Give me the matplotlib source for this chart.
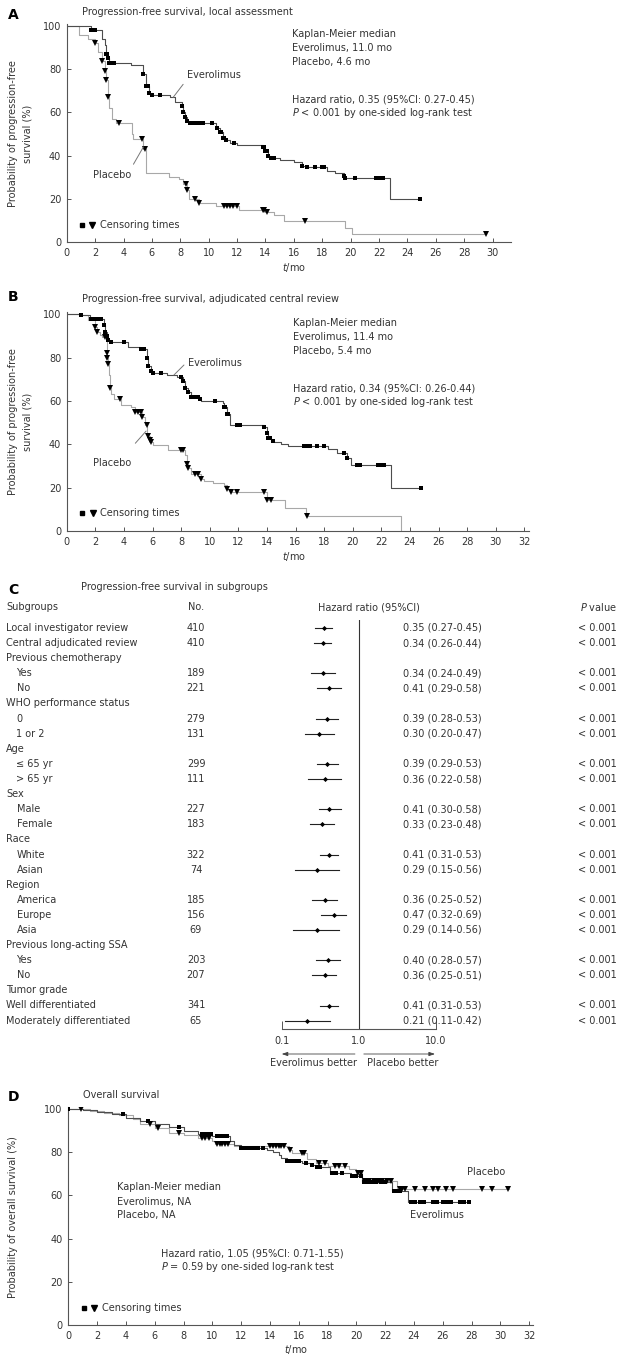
import numpy as np
import matplotlib
matplotlib.use("Agg")
import matplotlib.pyplot as plt
import matplotlib.transforms as mtransforms
from matplotlib.legend_handler import HandlerTuple

plt.rcParams["font.family"] = ["DejaVu Sans"]
plt.rcParams["mathtext.fontset"] = "dejavusans"

W, H = 629, 1364
FS = 7
TXT = "#333333"
EV_COLOR = "#4d4d4d"
PL_COLOR = "#a8a8a8"

# ---------------- Panel A: PFS, local assessment ----------------
a_ev_t = [0, 1.7, 2.5, 2.7, 2.8, 2.9, 3.0, 4.5, 5.4, 5.6, 5.8, 6.0, 7.3, 7.6, 8.1, 8.2, 8.3,
          8.5, 8.6, 10.5, 10.8, 11.0, 11.2, 11.5, 12.0, 13.8, 14.0, 14.2, 14.4, 15.0, 16.0,
          16.6, 16.8, 18.3, 18.9, 19.5, 19.6, 22.8]
a_ev_s = [100, 98, 94, 91, 87, 85, 83, 82, 78, 72, 69, 68, 67, 65, 63, 60, 58,
          56, 55, 53, 51, 48, 47, 46, 45, 44, 42, 40, 39, 38, 37,
          35, 34.5, 33, 32, 30.5, 29.5, 20]
a_ev_end = 24.9
a_ev_cens = [1.7, 1.9, 2.0, 2.8, 2.85, 2.9, 3.0, 3.1, 3.3, 5.4, 5.6, 5.7, 5.8, 6.0, 6.6,
             8.1, 8.2, 8.3, 8.5, 8.7, 8.8, 8.9, 9.0, 9.1, 9.2, 9.3, 9.5, 9.6, 10.2, 10.6,
             10.8, 10.9, 11.0, 11.1, 11.2, 11.8, 13.8, 13.9, 14.0, 14.1, 14.2, 14.4, 14.6,
             16.6, 16.9, 17.5, 18.0, 18.1, 19.5, 19.6, 20.3, 21.8, 22.0, 22.3, 24.9]

a_pl_t = [0, 0.9, 1.5, 2.0, 2.2, 2.5, 2.7, 2.8, 2.9, 3.0, 3.2, 3.5, 4.6, 4.7, 5.4, 5.6,
          7.2, 7.9, 8.2, 8.5, 8.6, 9.3, 10.5, 12.1, 14.0, 14.6, 15.3, 19.6, 20.1]
a_pl_s = [100, 96, 94, 92, 88, 84, 79, 75, 67, 62, 57, 55, 50, 47.5, 43, 32,
          30, 29, 27, 24, 20, 18, 16.5, 15, 14, 12.5, 9.5, 6.5, 3.6]
a_pl_end = 29.5
a_pl_cens = [2.0, 2.5, 2.7, 2.8, 2.9, 3.7, 5.3, 5.5, 8.4, 8.5, 9.0, 9.3, 11.1, 11.3, 11.5,
             11.7, 12.0, 13.8, 13.9, 14.1, 16.8, 29.5]

# ---------------- Panel B: PFS, central review ----------------
b_ev_t = [0, 1.0, 1.6, 2.6, 2.7, 2.8, 2.9, 3.0, 4.3, 5.1, 5.6, 5.7, 5.9, 6.0, 7.0, 7.7,
          8.1, 8.3, 8.5, 8.7, 9.3, 9.4, 10.9, 11.0, 11.2, 11.4, 13.8, 14.0, 14.1, 14.3,
          14.5, 15.0, 15.5, 18.3, 18.9, 19.6, 19.9, 22.7]
b_ev_s = [100, 99.5, 98, 95, 92, 90, 88, 87, 85, 84, 80, 76, 74, 73, 72, 71,
          69, 66, 64, 62, 61, 60, 59, 57, 54, 49, 48, 45, 43, 41.5,
          41, 40, 39, 38, 36, 33.5, 30.5, 19.7]
b_ev_end = 24.8
b_ev_cens = [1.0, 1.7, 1.9, 2.0, 2.2, 2.4, 2.6, 2.7, 2.8, 2.9, 3.1, 4.0, 5.2, 5.4, 5.6,
             5.7, 5.9, 6.0, 6.6, 8.0, 8.1, 8.3, 8.5, 8.7, 8.8, 8.9, 9.0, 9.1, 9.2, 9.3,
             10.4, 11.0, 11.1, 11.2, 11.3, 11.9, 12.1, 13.8, 14.0, 14.1, 14.2, 14.4,
             16.6, 16.8, 17.0, 17.5, 18.0, 19.4, 19.6, 20.3, 20.5, 21.8, 22.0, 22.2, 24.8]

b_pl_t = [0, 1.0, 1.5, 2.0, 2.1, 2.3, 2.5, 2.8, 2.85, 2.9, 2.95, 3.0, 3.05, 3.1, 3.3,
          3.8, 4.5, 4.8, 5.3, 5.5, 5.65, 5.8, 5.9, 6.0, 7.1, 8.3, 8.4, 8.5, 8.7, 9.4,
          9.6, 10.2, 11.0, 11.2, 11.5, 14.0, 15.3, 16.7, 23.4]
b_pl_s = [100, 99.5, 97.5, 94, 92, 90.5, 89.5, 82, 80, 77, 72, 69, 66, 63, 61,
          58, 57, 55, 52.5, 49, 44, 42, 41, 39.5, 37.5, 35, 31, 29, 26.5, 24,
          23, 22, 21, 19.5, 18, 14.5, 10.5, 7, 0]
b_pl_end = 23.4
b_pl_cens = [2.0, 2.1, 2.7, 2.8, 2.85, 2.9, 3.05, 3.7, 4.8, 5.0, 5.2, 5.3, 5.6, 5.7,
             5.8, 5.9, 8.0, 8.1, 8.4, 8.5, 9.0, 9.2, 9.4, 11.2, 11.5, 11.9, 13.8, 14.0,
             14.3, 16.8]

# ---------------- Panel D: overall survival ----------------
d_ev_t = [0, 1.0, 2.0, 3.0, 4.0, 5.0, 6.0, 7.0, 8.0, 9.0, 10.0, 11.2, 11.5, 12.0, 13.8,
          14.2, 14.6, 14.8, 15.2, 16.2, 16.8, 17.2, 18.2, 19.6, 20.4, 22.5, 23.6]
d_ev_s = [100, 99.5, 98.5, 97.5, 96, 94.5, 93, 91.5, 90, 88.5, 87.5, 85, 83.5, 82, 81,
          80, 78.5, 77.5, 76, 75, 74, 73, 70.2, 69, 66, 62, 57]
d_ev_end = 27.8
d_ev_cens = [0, 3.8, 5.5, 7.7, 9.3, 9.5, 9.7, 9.9, 10.3, 10.5, 10.7, 10.9, 11.0, 12.0,
             12.2, 12.4, 12.6, 12.8, 13.0, 13.2, 13.5, 15.2, 15.4, 15.6, 15.8, 16.0,
             16.5, 16.9, 17.3, 17.5, 18.3, 18.6, 19.0, 19.7, 20.0, 20.3, 20.5, 20.8,
             21.1, 21.4, 21.7, 22.0, 22.6, 22.8, 23.0, 23.8, 24.1, 24.4, 24.7, 25.3,
             25.6, 26.0, 26.3, 26.6, 27.2, 27.5, 27.8]

d_pl_t = [0, 1.5, 2.5, 3.5, 4.5, 5.0, 6.0, 7.0, 8.0, 9.0, 10.0, 10.2, 11.5, 15.3, 15.5,
          16.6, 17.2, 18.0, 19.5, 20.0, 20.4, 22.8]
d_pl_s = [100, 99, 98, 97, 95.5, 93, 91, 89, 88, 86.5, 85, 84, 82.8, 81, 79.5,
          77, 75, 73.5, 72, 70.5, 66.5, 63]
d_pl_end = 30.6
d_pl_cens = [0.9, 5.7, 6.2, 7.7, 9.3, 9.5, 9.8, 10.3, 10.5, 10.7, 10.9, 11.1, 14.0, 14.2,
             14.4, 14.6, 14.8, 15.0, 15.4, 16.2, 16.4, 17.4, 17.8, 18.5, 18.8, 19.2,
             20.1, 20.3, 20.6, 20.9, 21.2, 21.5, 21.8, 22.1, 22.4, 23.0, 23.2, 23.4,
             24.1, 24.8, 25.3, 25.7, 26.2, 26.7, 28.7, 29.4, 30.5]

# ---------------- Panel C: subgroup forest plot ----------------
sub_labels = ["Local investigator review", "Central adjudicated review",
              "Previous chemotherapy", "Yes", "No",
              "WHO performance status", "0", "1 or 2",
              "Age", "\u2264 65 yr", "> 65 yr",
              "Sex", "Male", "Female",
              "Race", "White", "Asian",
              "Region", "America", "Europe", "Asia",
              "Previous long-acting SSA", "Yes", "No",
              "Tumor grade", "Well differentiated", "Moderately differentiated"]
sub_indent = [0, 0, 0, 1, 1, 0, 1, 1, 0, 1, 1, 0, 1, 1, 0, 1, 1, 0, 1, 1, 1, 0, 1, 1, 0, 0, 0]
sub_n = [410, 410, None, 189, 221, None, 279, 131, None, 299, 111, None, 227, 183,
         None, 322, 74, None, 185, 156, 69, None, 203, 207, None, 341, 65]
sub_hr = [0.35, 0.34, None, 0.34, 0.41, None, 0.39, 0.30, None, 0.39, 0.36, None, 0.41,
          0.33, None, 0.41, 0.29, None, 0.36, 0.47, 0.29, None, 0.40, 0.36, None, 0.41, 0.21]
sub_lo = [0.27, 0.26, None, 0.24, 0.29, None, 0.28, 0.20, None, 0.29, 0.22, None, 0.30,
          0.23, None, 0.31, 0.15, None, 0.25, 0.32, 0.14, None, 0.28, 0.25, None, 0.31, 0.11]
sub_hi = [0.45, 0.44, None, 0.49, 0.58, None, 0.53, 0.47, None, 0.53, 0.58, None, 0.58,
          0.48, None, 0.53, 0.56, None, 0.52, 0.69, 0.56, None, 0.57, 0.51, None, 0.53, 0.42]
sub_p = ["< 0.001" if h is not None else "" for h in sub_hr]


def fx(px):
    return px / W


def fy(py):
    return 1 - py / H


def km_axes(left, right, bottom, top):
    return fig.add_axes([fx(left), fy(bottom), (right - left) / W, (bottom - top) / H])


def style_km(ax, xmax, xticks):
    ax.set_xlim(0, xmax)
    ax.set_ylim(0, 101)
    ax.set_xticks(xticks)
    ax.set_yticks(range(0, 101, 20))
    for side in ["top", "right"]:
        ax.spines[side].set_visible(False)
    for side in ["left", "bottom"]:
        ax.spines[side].set_color("#555555")
        ax.spines[side].set_linewidth(0.8)
    ax.tick_params(direction="in", length=3, width=0.7, color="#555555",
                   labelsize=FS, labelcolor=TXT, pad=4)
    ax.patch.set_alpha(0)


def km(ax, t, s, t_end, cens, color, marker, ms):
    tt = list(t) + [t_end]
    ss = list(s) + [s[-1]]
    ax.step(tt, ss, where="post", color=color, lw=0.8, zorder=2)
    idx = np.searchsorted(np.array(t), np.array(cens), side="right") - 1
    cy = np.array(s)[idx]
    ax.plot(cens, cy, ls="none", marker=marker, ms=ms, color="black",
            markeredgewidth=0, zorder=3)


def censor_legend(ax, anchor):
    sq, = ax.plot([], [], ls="none", marker="s", ms=3.2, color="black")
    tri, = ax.plot([], [], ls="none", marker="v", ms=4, color="black")
    leg = ax.legend([(sq, tri)], ["Censoring times"], loc="center left",
                    bbox_to_anchor=anchor, frameon=False, fontsize=FS,
                    handler_map={tuple: HandlerTuple(ndivide=None, pad=0.6)},
                    handlelength=1.6, handletextpad=0.5, borderpad=0, borderaxespad=0)
    for t in leg.get_texts():
        t.set_color(TXT)


def leader(ax, p0, p1):
    ax.annotate("", xy=p0, xytext=p1,
                arrowprops=dict(arrowstyle="-", color="#777777", lw=0.7,
                                shrinkA=0, shrinkB=0))


fig = plt.figure(figsize=(W / 100, H / 100), dpi=100)

# ---------- A ----------
axA = km_axes(66.7, 66.7 + 31.3 * 14.2, 242, 242 - 101 * 2.16)
style_km(axA, 31.3, range(0, 31, 2))
km(axA, a_pl_t, a_pl_s, a_pl_end, a_pl_cens, PL_COLOR, "v", 4)
km(axA, a_ev_t, a_ev_s, a_ev_end, a_ev_cens, EV_COLOR, "s", 3.2)
axA.text(15.9, 96.4, "Kaplan-Meier median", fontsize=FS, color=TXT, va="center")
axA.text(15.9, 90.0, "Everolimus, 11.0 mo", fontsize=FS, color=TXT, va="center")
axA.text(15.9, 83.4, "Placebo, 4.6 mo", fontsize=FS, color=TXT, va="center")
axA.text(15.9, 66.0, "Hazard ratio, 0.35 (95%CI: 0.27-0.45)", fontsize=FS, color=TXT, va="center")
axA.text(15.9, 59.6, "$P$ < 0.001 by one-sided log-rank test", fontsize=FS, color=TXT, va="center")
axA.text(8.45, 77.3, "Everolimus", fontsize=FS, color=TXT, va="center")
leader(axA, (7.5, 67), (8.2, 73))
axA.text(1.85, 31, "Placebo", fontsize=FS, color=TXT, va="center")
leader(axA, (4.7, 36), (5.4, 44))
censor_legend(axA, (0.028, 0.078))
fig.text(fx(294), fy(267), "$t$/mo", fontsize=FS, color=TXT, ha="center", va="center")
fig.text(fx(20), fy(134), "Probability of progression-free\nsurvival (%)", fontsize=FS,
         color=TXT, rotation=90, ha="center", va="center", linespacing=1.5)
fig.text(fx(8), fy(15), "A", fontsize=10, fontweight="bold", va="center")
fig.text(fx(82), fy(12), "Progression-free survival, local assessment", fontsize=FS,
         color=TXT, va="center")

# ---------- B ----------
axB = km_axes(66.7, 66.7 + 32.3 * 14.3, 531, 531 - 101 * 2.167)
style_km(axB, 32.3, range(0, 33, 2))
km(axB, b_pl_t, b_pl_s, b_pl_end, b_pl_cens, PL_COLOR, "v", 4)
km(axB, b_ev_t, b_ev_s, b_ev_end, b_ev_cens, EV_COLOR, "s", 3.2)
axB.text(15.8, 96.1, "Kaplan-Meier median", fontsize=FS, color=TXT, va="center")
axB.text(15.8, 89.7, "Everolimus, 11.4 mo", fontsize=FS, color=TXT, va="center")
axB.text(15.8, 83.2, "Placebo, 5.4 mo", fontsize=FS, color=TXT, va="center")
axB.text(15.8, 65.8, "Hazard ratio, 0.34 (95%CI: 0.26-0.44)", fontsize=FS, color=TXT, va="center")
axB.text(15.8, 59.7, "$P$ < 0.001 by one-sided log-rank test", fontsize=FS, color=TXT, va="center")
axB.text(8.45, 77.4, "Everolimus", fontsize=FS, color=TXT, va="center")
leader(axB, (7.5, 72), (8.2, 76.6))
axB.text(1.87, 31.2, "Placebo", fontsize=FS, color=TXT, va="center")
leader(axB, (4.8, 40.5), (5.55, 46.1))
censor_legend(axB, (0.028, 0.082))
fig.text(fx(294), fy(556), "$t$/mo", fontsize=FS, color=TXT, ha="center", va="center")
fig.text(fx(20), fy(422), "Probability of progression-free\nsurvival (%)", fontsize=FS,
         color=TXT, rotation=90, ha="center", va="center", linespacing=1.5)
fig.text(fx(8), fy(297), "B", fontsize=10, fontweight="bold", va="center")
fig.text(fx(82), fy(299), "Progression-free survival, adjudicated central review",
         fontsize=FS, color=TXT, va="center")

# ---------- C ----------
axC = fig.add_axes([fx(281.7), fy(1029.3), (436 - 281.7) / W, (1029.3 - 620) / H])
axC.set_xscale("log")
axC.set_xlim(0.1, 10)
row0, row_step = 628, 15.1
axC.set_ylim((1029.3 - row0) / row_step, (620 - row0) / row_step)
for side in ["top", "right", "left"]:
    axC.spines[side].set_visible(False)
axC.spines["bottom"].set_color("#555555")
axC.spines["bottom"].set_linewidth(0.8)
axC.set_xticks([0.1, 1, 10])
axC.set_xticklabels(["0.1", "1.0", "10.0"])
axC.xaxis.set_minor_locator(matplotlib.ticker.NullLocator())
axC.set_yticks([])
axC.tick_params(axis="x", direction="in", length=6, width=0.7, color="#555555",
                labelsize=FS, labelcolor=TXT, pad=5)
axC.axvline(1, color="#333333", lw=0.8)
axC.patch.set_alpha(0)

rows = np.arange(len(sub_labels))
for i in rows:
    if sub_hr[i] is None:
        continue
    axC.plot([sub_lo[i], sub_hi[i]], [i, i], color="#222222", lw=0.8)
    axC.plot(sub_hr[i], i, marker="D", ms=2.6, color="black", markeredgewidth=0)

tr = mtransforms.blended_transform_factory(fig.transFigure, axC.transData)
for i in rows:
    x_lab = fx(16.5) if sub_indent[i] else fx(6)
    axC.text(x_lab, i, sub_labels[i], transform=tr, fontsize=FS, color=TXT, va="center")
    if sub_n[i] is not None:
        axC.text(fx(196), i, str(sub_n[i]), transform=tr, fontsize=FS, color=TXT,
                 va="center", ha="center")
    if sub_hr[i] is not None:
        axC.text(fx(402.7), i, f"{sub_hr[i]:.2f} ({sub_lo[i]:.2f}-{sub_hi[i]:.2f})",
                 transform=tr, fontsize=FS, color=TXT, va="center")
        axC.text(fx(617), i, sub_p[i], transform=tr, fontsize=FS, color=TXT,
                 va="center", ha="right")

hdr = (607 - row0) / row_step
axC.text(fx(6), hdr, "Subgroups", transform=tr, fontsize=FS, color=TXT, va="center")
axC.text(fx(188), hdr, "No.", transform=tr, fontsize=FS, color=TXT, va="center")
axC.text(fx(318), hdr, "Hazard ratio (95%CI)", transform=tr, fontsize=FS, color=TXT, va="center")
axC.text(fx(617), hdr, "$P$ value", transform=tr, fontsize=FS, color=TXT, va="center", ha="right")
fig.text(fx(8), fy(590), "C", fontsize=10, fontweight="bold", va="center")
fig.text(fx(81), fy(587), "Progression-free survival in subgroups", fontsize=FS,
         color=TXT, va="center")

arr_y = (1054 - row0) / row_step
lab_y = (1062.5 - row0) / row_step
axC.annotate("", xy=(0.1, arr_y), xytext=(0.89, arr_y), annotation_clip=False,
             arrowprops=dict(arrowstyle="-|>,head_length=0.35,head_width=0.12",
                             color="#444444", lw=0.6, shrinkA=0, shrinkB=0))
axC.annotate("", xy=(9.7, arr_y), xytext=(1.16, arr_y), annotation_clip=False,
             arrowprops=dict(arrowstyle="-|>,head_length=0.35,head_width=0.12",
                             color="#444444", lw=0.6, shrinkA=0, shrinkB=0))
axC.text(0.26, lab_y, "Everolimus better", fontsize=FS, color=TXT, ha="center", va="center")
axC.text(3.7, lab_y, "Placebo better", fontsize=FS, color=TXT, ha="center", va="center")

# ---------- D ----------
axD = km_axes(68.3, 68.3 + 32.3 * 14.4, 1325, 1325 - 101 * 2.16)
style_km(axD, 32.3, range(0, 33, 2))
km(axD, d_pl_t, d_pl_s, d_pl_end, d_pl_cens, PL_COLOR, "v", 4)
km(axD, d_ev_t, d_ev_s, d_ev_end, d_ev_cens, EV_COLOR, "s", 3.2)
axD.text(3.36, 63.7, "Kaplan-Meier median", fontsize=FS, color=TXT, va="center")
axD.text(3.36, 57.1, "Everolimus, NA", fontsize=FS, color=TXT, va="center")
axD.text(3.36, 50.9, "Placebo, NA", fontsize=FS, color=TXT, va="center")
axD.text(6.44, 32.9, "Hazard ratio, 1.05 (95%CI: 0.71-1.55)", fontsize=FS, color=TXT, va="center")
axD.text(6.44, 27.0, "$P$ = 0.59 by one-sided log-rank test", fontsize=FS, color=TXT, va="center")
axD.text(27.7, 71, "Placebo", fontsize=FS, color=TXT, va="center")
axD.text(23.7, 50.9, "Everolimus", fontsize=FS, color=TXT, va="center")
censor_legend(axD, (0.028, 0.077))
fig.text(fx(296), fy(1350), "$t$/mo", fontsize=FS, color=TXT, ha="center", va="center")
fig.text(fx(13), fy(1217), "Probability of overall survival (%)", fontsize=FS,
         color=TXT, rotation=90, ha="center", va="center")
fig.text(fx(8), fy(1097), "D", fontsize=10, fontweight="bold", va="center")
fig.text(fx(83), fy(1095), "Overall survival", fontsize=FS, color=TXT, va="center")

fig.savefig("out.png", dpi=100)
